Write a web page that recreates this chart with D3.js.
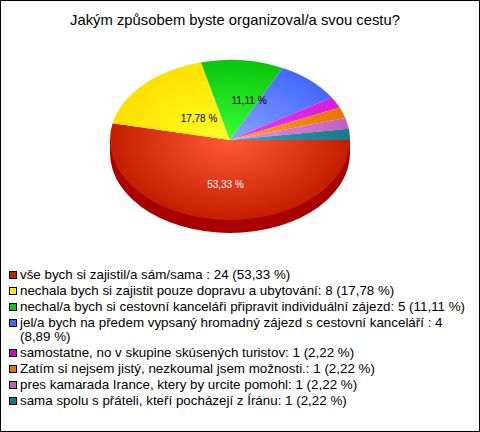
<!DOCTYPE html>
<html><head><meta charset="utf-8">
<script src="https://cdn.jsdelivr.net/npm/d3@7"></script>
<style>html,body{margin:0;padding:0;background:#fff}svg{display:block}text{font-family:"Liberation Sans",Arial,sans-serif}</style>
</head><body><svg id="c" width="480" height="432"></svg>
<script>
const title = "Jakým způsobem byste organizoval/a svou cestu?";
const categories = ["vše bych si zajistil/a sám/sama : 24 (53,33 %)",
 "nechala bych si zajistit pouze dopravu a ubytování: 8 (17,78 %)",
 "nechal/a bych si cestovní kanceláři připravit individuální zájezd: 5 (11,11 %)",
 "jel/a bych na předem vypsaný hromadný zájezd s cestovní kanceláří : 4|(8,89 %)",
 "samostatne, no v skupine skúsených turistov: 1 (2,22 %)",
 "Zatím si nejsem jistý, nezkoumal jsem možnosti.: 1 (2,22 %)",
 "pres kamarada Irance, ktery by urcite pomohl: 1 (2,22 %)",
 "sama spolu s přáteli, kteří pocházejí z Íránu: 1 (2,22 %)"];
const values = [24,8,5,4,1,1,1,1];
const sliceLabels = ["53,33 %","17,78 %","11,11 %","","","","",""];
const labelColors = ["#fff","#000","#000","#000","#000","#000","#000","#000"];
const innerColors = ["#ff5a38","#ffff28","#38ff38","#88a4ff","#e83cf0","#ffa428","#e494e4","#40a4bc"];
const outerColors = ["#c41e00","#ffe000","#0cc40c","#4468ff","#d81ce0","#e87400","#c060c0","#187888"];
const legendColors = ["#c41e00","#ffee00","#0cc40c","#4468ff","#c80cc8","#e87400","#c060c0","#187888"];
const sideColor = "#a80000";

const svg = d3.select("#c");
svg.append("rect").attr("x",0.5).attr("y",0.5).attr("width",479).attr("height",431).attr("fill","#fff").attr("stroke","#000");
svg.append("text").attr("x",235).attr("y",25).attr("text-anchor","middle").attr("font-size",14.8).text(title);

const cx=230, cy=140, rx=120, ry=80, depth=13;
const defs = svg.append("defs");
values.forEach((v,i)=>{
  const g = defs.append("radialGradient").attr("id","g"+i).attr("gradientUnits","userSpaceOnUse")
    .attr("cx",0).attr("cy",0).attr("r",rx);
  g.append("stop").attr("offset",0).attr("stop-color",innerColors[i]);
  g.append("stop").attr("offset",1).attr("stop-color",outerColors[i]);
});
const pie = d3.pie().sort(null).startAngle(Math.PI/2).endAngle(Math.PI*2.5)(values);
const arc = d3.arc().innerRadius(0).outerRadius(rx);
const sy = ry/rx;
svg.append("g").attr("transform",`translate(${cx},${cy+depth}) scale(1,${sy})`)
  .append("path").attr("d",arc(pie[0])).attr("fill",sideColor);
svg.append("rect").attr("x",cx-rx).attr("y",cy).attr("width",2*rx).attr("height",depth).attr("fill",sideColor);
const pieTop = svg.append("g").attr("transform",`translate(${cx},${cy}) scale(1,${sy})`);
pieTop.selectAll("path").data(pie).join("path").attr("d",arc).attr("fill",(d,i)=>`url(#g${i})`);

const labelPos = [[-4.5,48],[-31,-18],[19,-36]];
sliceLabels.forEach((s,i)=>{ if(!s) return;
  svg.append("text").attr("x",cx+labelPos[i][0]).attr("y",cy+labelPos[i][1]).attr("text-anchor","middle")
   .attr("font-size",10).attr("fill",labelColors[i]).text(s);
});

let y = 279;
categories.forEach((c,i)=>{
  svg.append("rect").attr("x",9.5).attr("y",y-7.5).attr("width",7).attr("height",7).attr("fill",legendColors[i]).attr("stroke","#000");
  c.split("|").forEach((line,j)=>{
    svg.append("text").attr("x",20).attr("y",y+j*14).attr("font-size",13.37).attr("fill","#000").text(line);
    if(j) y+=14;
  });
  y+=16;
});
</script></body></html>
